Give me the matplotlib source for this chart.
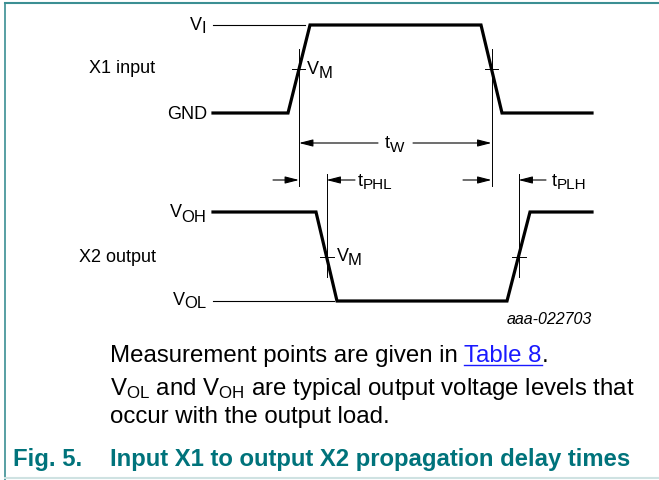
import matplotlib
matplotlib.use('Agg')
import matplotlib.pyplot as plt

plt.rcParams['font.family'] = ['Liberation Sans', 'DejaVu Sans']
plt.rcParams['mathtext.fontset'] = 'custom'
plt.rcParams['mathtext.rm'] = 'Liberation Sans'

# waveform break points (time units) and logic levels
t_in = [213, 288, 310, 481, 502, 592]
lvl_in = [0, 0, 1, 1, 0, 0]
t_out = [213, 316, 337, 507, 530, 592]
lvl_out = [1, 1, 0, 0, 1, 1]

level_labels_in = [('V', 'I'), ('GND', '')]
level_labels_out = [('V', 'OH'), ('V', 'OL')]
trace_names = ['X1 input', 'X2 output']
fig_label = 'aaa-022703'
notes = ['Measurement points are given in ', 'Table 8', '.']
caption_num = 'Fig. 5.'
caption_txt = 'Input X1 to output X2 propagation delay times'

teal = '#00737b'

fig = plt.figure(figsize=(6.59, 4.80), dpi=100)
ax = fig.add_axes([0, 0, 1, 1])
ax.set_xlim(0, 659)
ax.set_ylim(480, 0)
ax.axis('off')
r = fig.canvas.get_renderer()


def sub_label(x, y, base, sub, size=13, subsize=12, drop=4, ha='left', color='black'):
    t1 = ax.text(x, y, base, fontsize=size, va='baseline', color=color)
    w1 = t1.get_window_extent(r).width
    w2 = 0
    t2 = None
    if sub:
        t2 = ax.text(x, y + drop, sub, fontsize=subsize, va='baseline', color=color)
        w2 = t2.get_window_extent(r).width
    x0 = x - w1 - w2 if ha == 'right' else x
    t1.set_x(x0)
    if t2 is not None:
        t2.set_x(x0 + w1 - 0.5)


# y position of each trace: (low, high)
in_y = (113, 25)
out_y = (301, 212)


def to_y(lvls, ys):
    return [ys[0] + l * (ys[1] - ys[0]) for l in lvls]


ax.plot(t_in, to_y(lvl_in, in_y), color='black', lw=2.3, solid_joinstyle='miter')
ax.plot(t_out, to_y(lvl_out, out_y), color='black', lw=2.3, solid_joinstyle='miter')

# reference lines for V_I and V_OL
ax.plot([213, 305], [in_y[1], in_y[1]], color='black', lw=0.8)
ax.plot([213, 334], [out_y[0], out_y[0]], color='black', lw=0.8)

# V_M crossing points (middle of each edge)
mid_in = (in_y[0] + in_y[1]) / 2
mid_out = (out_y[0] + out_y[1]) / 2
cross_in = [(t_in[1] + t_in[2]) / 2, (t_in[3] + t_in[4]) / 2]
cross_out = [(t_out[1] + t_out[2]) / 2, (t_out[3] + t_out[4]) / 2]

for c in cross_in:
    ax.plot([c, c], [49, 186], color='black', lw=0.7)
    ax.plot([c - 7, c + 6], [mid_in, mid_in], color='black', lw=0.7)
for c in cross_out:
    ax.plot([c, c], [174, 277], color='black', lw=0.7)
    ax.plot([c - 7, c + 7], [mid_out, mid_out], color='black', lw=0.7)

ap = dict(arrowstyle='-|>,head_length=0.7,head_width=0.18', color='black', lw=0.8,
          shrinkA=0, shrinkB=0, mutation_scale=12)
# tW
ax.annotate('', xy=(cross_in[0], 143), xytext=(378, 143), arrowprops=ap)
ax.annotate('', xy=(cross_in[1], 143), xytext=(413, 143), arrowprops=ap)
# tPHL
ax.annotate('', xy=(cross_in[0], 180), xytext=(273, 180), arrowprops=ap)
ax.annotate('', xy=(cross_out[0], 180), xytext=(355, 180), arrowprops=ap)
# tPLH
ax.annotate('', xy=(cross_in[1], 180), xytext=(463, 180), arrowprops=ap)
ax.annotate('', xy=(cross_out[1], 180), xytext=(546, 180), arrowprops=ap)

# labels
sub_label(207, 30, *level_labels_in[0], ha='right', drop=3)
sub_label(207, 119, *level_labels_in[1], ha='right')
sub_label(207, 217, *level_labels_out[0], ha='right', drop=5)
sub_label(207, 305, *level_labels_out[1], ha='right', drop=3)
ax.text(89, 73, trace_names[0], fontsize=13, va='baseline')
ax.text(79, 262, trace_names[1], fontsize=13, va='baseline')
sub_label(cross_in[0] + 8, 74, 'V', 'M', drop=4)
sub_label(cross_out[0] + 10, 261, 'V', 'M', drop=4)
sub_label(385, 148, 't', 'W', subsize=11, drop=4)
sub_label(358, 186, 't', 'PHL', subsize=11, drop=3)
sub_label(552, 186, 't', 'PLH', subsize=11, drop=3)
ax.text(592, 324, fig_label, fontsize=11.5, style='italic', ha='right', va='baseline')

# notes
ax.text(110, 362, notes[0], fontsize=17.3, va='baseline')
ax.text(464, 362, notes[1], fontsize=17.3, va='baseline', color='#1a1aff')
ax.plot([464, 542], [365, 365], color='#1a1aff', lw=1)
ax.text(542, 362, notes[2], fontsize=17.3, va='baseline')
ax.text(110, 395, r'$\mathregular{V_{OL}}$ and $\mathregular{V_{OH}}$ are typical output voltage levels that',
        fontsize=17.3, va='baseline')
ax.text(110, 423, 'occur with the output load.', fontsize=17.3, va='baseline')

# caption
ax.text(13, 466, caption_num, fontsize=17.2, fontweight='bold', color=teal, va='baseline')
ax.text(110, 466, caption_txt, fontsize=17.2, fontweight='bold', color=teal, va='baseline')

# frame
ax.plot([5, 659], [3, 3], color='#3b8f93', lw=1.5)
ax.plot([5, 5], [3, 480], color='#3b8f93', lw=1.2)
ax.plot([5, 659], [478, 478], color='#cfe2e2', lw=1.5)

fig.savefig('out.png', dpi=100)
